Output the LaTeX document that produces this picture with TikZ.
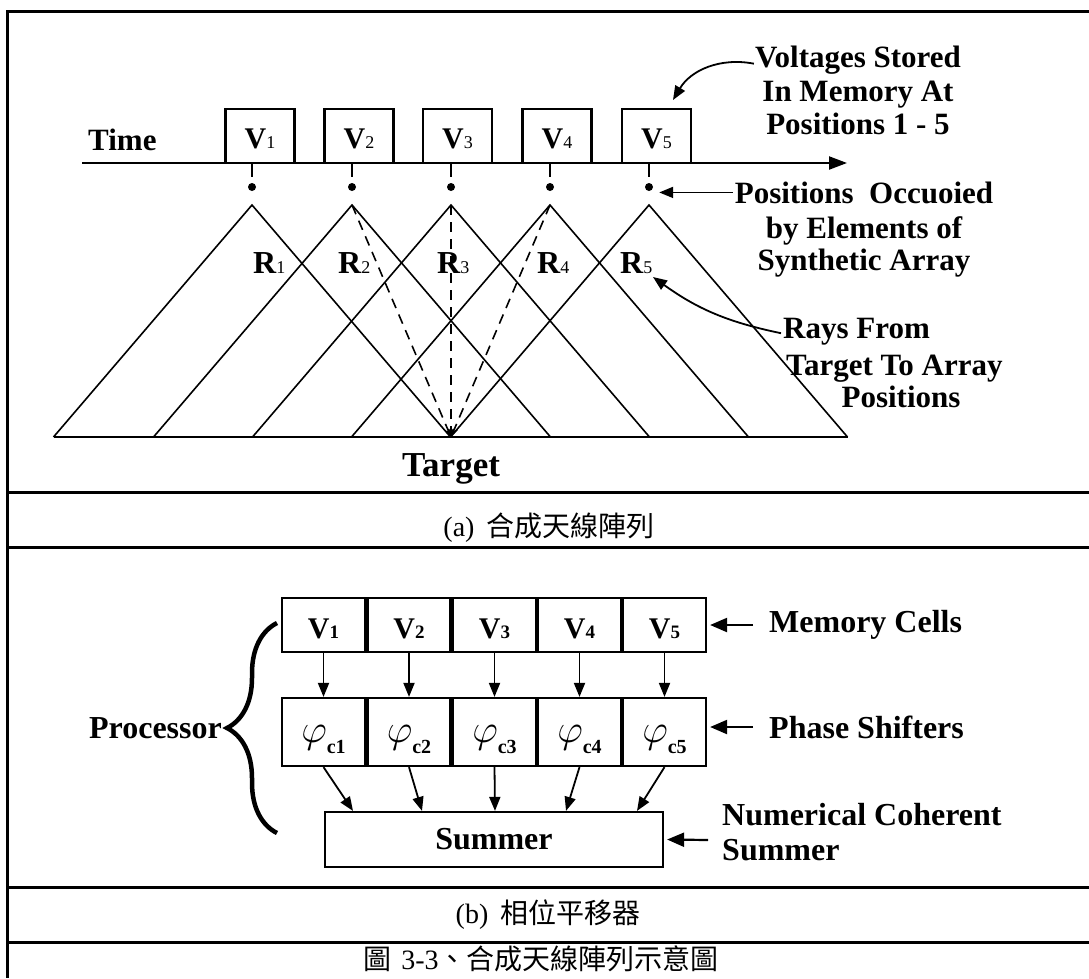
\documentclass[tikz,border=0pt]{standalone}
\usepackage{fontspec}
\setmainfont{Liberation Serif}
\newfontfamily\cjk{Noto Sans CJK TC}
\usetikzlibrary{arrows.meta,decorations.pathreplacing}
\newcommand{\fs}[1]{\fontsize{#1}{#1}\selectfont}
\newcommand{\tsub}[1]{{\mdseries\fs{18}#1}}
\newcommand{\bsub}[1]{{\fs{19}#1}}
\begin{document}
\begin{tikzpicture}[x=1pt,y=-1pt,
  frm/.style={line width=3pt},
  ray/.style={line width=1.6pt},
  dray/.style={line width=1.6pt,dash pattern=on 10pt off 7pt,-{Stealth[length=9pt,width=7pt]}},
  cbox/.style={draw,line width=2.2pt,inner sep=0pt},
  arr/.style={line width=1.8pt,-{Triangle[length=14pt,width=11pt]}},
  sarr/.style={line width=2.2pt,-{Triangle[length=17pt,width=14pt]}},
  lab/.style={font=\bfseries\fs{31},inner sep=0pt},
  captxt/.style={font=\fs{28},inner sep=0pt},
  tbox/.style={cbox,minimum width=69pt,minimum height=54pt,font=\bfseries\fs{30},text height=24pt,text depth=0pt},
  mbox/.style={cbox,minimum width=83pt,minimum height=54pt,font=\bfseries\fs{30},text height=26pt,text depth=0pt},
  fbox/.style={cbox,minimum width=83pt,minimum height=68pt,font=\fs{24},text height=20pt,text depth=0pt},
  pdot/.style={circle,fill,inner sep=0pt,minimum size=8pt}
]
\useasboundingbox (0,0) rectangle (1089,978);
% frame
\draw[frm] (1089,11) -- (7,11) -- (7,978);
\foreach \yy in {492,547,887,942} \draw[frm] (7,\yy) -- (1089,\yy);

% ---------- (a) ----------
\node[lab,anchor=base west] (time) at (88,150) {Time};
\coordinate (ax0) at (82,163);
\coordinate (ax1) at (847,163);
\draw[line width=2.2pt,-{Triangle[length=18pt,width=13pt]}] (ax0) -- (ax1);
\foreach \i/\bx/\px in {1/260/252,2/359/352,3/457.5/451,4/557/550,5/656.5/649}{
  \node[tbox] (t\i) at (\bx,136) {V\tsub{\i}};
  \coordinate (k\i) at (\px,163);
  \coordinate (ke\i) at (\px,177);
  \node[pdot] (d\i) at (\px,187) {};
  \coordinate (p\i) at (\px,205);
  \coordinate (bl\i) at (\px-198.5,437);
  \coordinate (br\i) at (\px+198.5,437);
  \draw[ray] (k\i) -- (ke\i);
  \draw[ray] (bl\i) -- (p\i) -- (br\i);
}
\draw[ray] (bl1) -- (br5);
\coordinate (tg) at (451,437);
\draw[dray] (p2) -- (tg);
\draw[dray] (p3) -- (tg);
\draw[dray] (p4) -- (tg);
\foreach \i/\rx in {1/253,2/338,3/437,4/537,5/620}
  \node[font=\bfseries\fs{32},inner sep=0pt,anchor=base west] (r\i) at (\rx,273) {R\tsub{\i}};
\node[font=\bfseries\fs{35},inner sep=0pt,anchor=base] (target) at (451,476) {Target};

\node[lab,anchor=base] (vs1) at (858,67) {Voltages Stored};
\node[lab,anchor=base] (vs2) at (858,101) {In Memory At};
\node[lab,anchor=base] (vs3) at (858,134) {Positions 1 - 5};
\coordinate (vst) at (673,100);
\draw[arr] ([xshift=-1pt,yshift=-4pt]vs1.west) to[bend right=35] (vst);

\node[lab,anchor=base] (po1) at (864,203) {Positions\ \ Occuoied};
\node[lab,anchor=base] (po2) at (864,238) {by Elements of};
\node[lab,anchor=base] (po3) at (864,270) {Synthetic Array};
\draw[arr] ([xshift=-2pt]po1.west) -- ([xshift=6pt]d5.east |- po1.west);

\node[lab,anchor=base west] (rf1) at (783,338) {Rays From};
\node[lab,anchor=base west] (rf2) at (786,375) {Target To Array};
\node[lab,anchor=base] (rf3) at (901,407) {Positions};
\coordinate (rft) at (653,277);
\draw[arr] ([xshift=-2pt,yshift=-2pt]rf1.west) to[bend left=12] (rft);

\node[captxt] (capa) at (549,528) {(a)\hspace{12pt}{\cjk 合成天線陣列}};

% ---------- (b) ----------
\foreach \i/\x in {1/323.5,2/409,3/494.5,4/579.5,5/664.5}{
  \node[mbox] (m\i) at (\x,625) {V\bsub{\i}};
  \node[fbox] (f\i) at (\x,732) {\scalebox{1.6}{$\varphi$}\raisebox{-11pt}{\bfseries\fs{20}c\i}};
  \draw[arr] (m\i.south) -- (f\i.north);
}
\node[cbox,minimum width=338pt,minimum height=55pt,font=\bfseries\fs{32}] (sum) at (494,839.5) {Summer};
\foreach \i/\o in {1/-141,2/-72,3/1,4/72,5/143}
  \draw[arr] (f\i.south) -- ([xshift=\o pt]sum.north);

\node[lab,font=\bfseries\fs{32},anchor=west] (mc) at (769,625) {Memory Cells};
\draw[sarr] ([xshift=-16pt]mc.west) -- ([xshift=3pt]m5.east);
\node[lab,font=\bfseries\fs{32},anchor=west] (ps) at (769,727) {Phase Shifters};
\draw[sarr] ([xshift=-16pt]ps.west) -- ([xshift=3pt]f5.east |- ps.west);
\node[lab,font=\bfseries\fs{32},anchor=base west] (nc1) at (722,825) {Numerical Coherent};
\node[lab,font=\bfseries\fs{32},anchor=base west] (nc2) at (722,860) {Summer};
\coordinate (sat) at (708,840);
\draw[sarr] (sat) -- ([xshift=3pt]sum.east);

\coordinate (bb) at (277,833);
\coordinate (bt) at (277,623);
\draw[line width=4.5pt,decorate,decoration={brace,amplitude=50pt}] (bb) -- (bt);
\node[lab,font=\bfseries\fs{32},anchor=east] (proc) at (222,728) {Processor};

\node[captxt] (capb) at (548,915) {(b)\hspace{12pt}{\cjk 相位平移器}};
\node[captxt] (capc) at (541,959) {{\cjk 圖}\hspace{10pt}3-3{\cjk 、合成天線陣列示意圖}};
\end{tikzpicture}
\end{document}
